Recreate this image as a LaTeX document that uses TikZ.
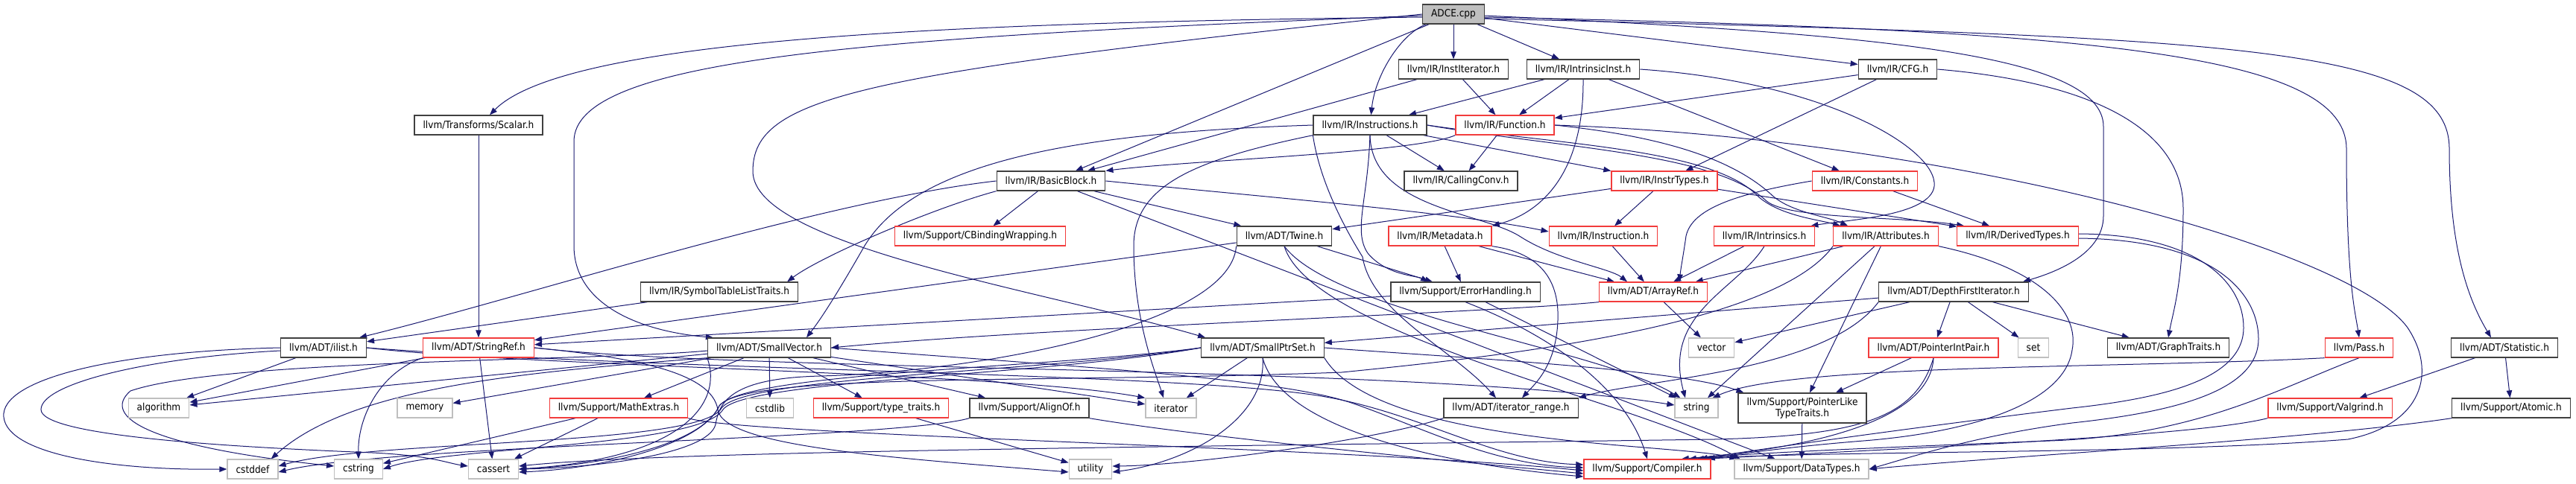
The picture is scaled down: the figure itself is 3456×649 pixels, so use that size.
\documentclass[tikz,border=0pt]{standalone}
\usepackage{fontspec}
\newfontfamily\graphfont[FakeStretch=0.9]{DejaVu Sans}
\usepackage{tikz}
\usetikzlibrary{arrows.meta, backgrounds}

\definecolor{edgeblue}{HTML}{191970}
\definecolor{truncred}{HTML}{F23C3C}
\definecolor{sysgray}{HTML}{BFBFBF}
\definecolor{hdrblack}{HTML}{404040}

\begin{document}
\begin{tikzpicture}[
  x=1pt, y=-1pt,
  every node/.style={font=\graphfont\fontsize{13.5}{15}\selectfont},
  hdr/.style={draw=hdrblack, line width=1.3pt, fill=white, inner xsep=11.5pt, inner ysep=3pt, minimum height=26pt},
  trunc/.style={hdr, draw=truncred},
  sys/.style={hdr, draw=sysgray},
  root/.style={hdr, fill=sysgray},
  incl/.style={-{Triangle[length=10pt,width=7.5pt]}, line width=1pt, edgeblue}
]
  \useasboundingbox (0,0) rectangle (3456,649);

  % Row 0
  \node[root] (adce) at (1950,19) {ADCE.cpp};

  % Row 1
  \node[hdr] (institer) at (1950,93) {llvm/IR/InstIterator.h};
  \node[hdr] (intrinst) at (2124,93) {llvm/IR/IntrinsicInst.h};
  \node[hdr] (cfg) at (2546,93) {llvm/IR/CFG.h};

  % Row 2
  \node[hdr] (scalar) at (642,168) {llvm/Transforms/Scalar.h};
  \node[hdr] (instrs) at (1838,168) {llvm/IR/Instructions.h};
  \node[trunc] (func) at (2019,168) {llvm/IR/Function.h};

  % Row 3
  \node[hdr] (bblock) at (1410,243) {llvm/IR/BasicBlock.h};
  \node[hdr] (callconv) at (1960,243) {llvm/IR/CallingConv.h};
  \node[trunc] (instrtypes) at (2233,243) {llvm/IR/InstrTypes.h};
  \node[trunc] (constants) at (2502,243) {llvm/IR/Constants.h};

  % Row 4
  \node[trunc] (cbind) at (1315,317) {llvm/Support/CBindingWrapping.h};
  \node[hdr] (twine) at (1723,317) {llvm/ADT/Twine.h};
  \node[trunc] (metadata) at (1932,317) {llvm/IR/Metadata.h};
  \node[trunc] (instr) at (2151,317) {llvm/IR/Instruction.h};
  \node[trunc] (intrinsics) at (2367,317) {llvm/IR/Intrinsics.h};
  \node[trunc] (attrs) at (2530,317) {llvm/IR/Attributes.h};
  \node[trunc] (dertypes) at (2707,317) {llvm/IR/DerivedTypes.h};

  % Row 5
  \node[hdr] (symtab) at (965,392) {llvm/IR/SymbolTableListTraits.h};
  \node[hdr] (errhand) at (1966,392) {llvm/Support/ErrorHandling.h};
  \node[trunc] (arrayref) at (2218,392) {llvm/ADT/ArrayRef.h};
  \node[hdr] (dfi) at (2621,392) {llvm/ADT/DepthFirstIterator.h};

  % Row 6
  \node[hdr] (ilist) at (434,467) {llvm/ADT/ilist.h};
  \node[trunc] (stringref) at (642,467) {llvm/ADT/StringRef.h};
  \node[hdr] (smallvec) at (1032,467) {llvm/ADT/SmallVector.h};
  \node[hdr] (smallptr) at (1694,467) {llvm/ADT/SmallPtrSet.h};
  \node[sys] (vector) at (2296,467) {vector};
  \node[trunc] (ptrintpair) at (2594,467) {llvm/ADT/PointerIntPair.h};
  \node[sys] (set) at (2728,467) {set};
  \node[hdr] (graphtraits) at (2909,467) {llvm/ADT/GraphTraits.h};
  \node[trunc] (pass) at (3165,467) {llvm/Pass.h};
  \node[hdr] (statistic) at (3360,467) {llvm/ADT/Statistic.h};

  % Row 7
  \node[sys] (algorithm) at (213,548) {algorithm};
  \node[sys] (memory) at (570,548) {memory};
  \node[trunc] (mathextras) at (830,548) {llvm/Support/MathExtras.h};
  \node[sys] (cstdlib) at (1033,548) {cstdlib};
  \node[trunc] (typetraits) at (1182,548) {llvm/Support/type\_traits.h};
  \node[hdr] (alignof) at (1381,548) {llvm/Support/AlignOf.h};
  \node[sys] (iterator) at (1571,548) {iterator};
  \node[hdr] (iterrange) at (2027,548) {llvm/ADT/iterator\_range.h};
  \node[sys] (string) at (2276,548) {string};
  \node[hdr, align=center, minimum height=40pt] (ptrlike) at (2418,548) {llvm/Support/PointerLike\\TypeTraits.h};
  \node[trunc] (valgrind) at (3126,548) {llvm/Support/Valgrind.h};
  \node[hdr] (atomic) at (3369,548) {llvm/Support/Atomic.h};

  % Row 8
  \node[sys] (cstddef) at (339,630) {cstddef};
  \node[sys] (cstring) at (481,630) {cstring};
  \node[sys] (cassert) at (662,630) {cassert};
  \node[sys] (utility) at (1463,630) {utility};
  \node[trunc] (compiler) at (2210,630) {llvm/Support/Compiler.h};
  \node[sys] (datatypes) at (2417,630) {llvm/Support/DataTypes.h};

  \begin{scope}[on background layer]
    % Straight includes
    \foreach \s/\t in {adce/institer, adce/intrinst, adce/cfg, adce/bblock,
        institer/func, institer/bblock, intrinst/instrs, intrinst/func, intrinst/constants,
        cfg/func, cfg/instrtypes, scalar/stringref, instrs/callconv, instrs/instrtypes,
        func/callconv, bblock/cbind, bblock/twine, bblock/datatypes,
        instrtypes/instr, instrtypes/twine, instrtypes/dertypes, constants/dertypes,
        twine/stringref, twine/errhand, metadata/errhand, metadata/arrayref,
        instr/arrayref, intrinsics/arrayref, attrs/arrayref, attrs/ptrlike, attrs/string,
        errhand/stringref, errhand/string, arrayref/vector,
        dfi/ptrintpair, dfi/set, dfi/graphtraits, dfi/vector, dfi/smallptr,
        ptrintpair/ptrlike, statistic/valgrind, statistic/atomic, symtab/ilist,
        ilist/algorithm, stringref/algorithm, stringref/cassert,
        smallvec/memory, smallvec/mathextras, smallvec/cstdlib, smallvec/typetraits,
        smallvec/alignof, smallvec/iterator, smallvec/algorithm,
        mathextras/cassert, mathextras/cstring, typetraits/utility,
        smallptr/iterator, ptrlike/datatypes}
      \draw[incl] (\s) -- (\t);

    % ADCE.cpp, long ones
    \draw[incl] ([yshift=-4pt]adce.west) .. controls (1300,30) and (760,50) .. ([xshift=15pt]scalar.north);
    \draw[incl] ([yshift=-2pt]adce.west) .. controls (1150,50) and (770,80) .. (770,190) -- (770,330) .. controls (770,410) and (860,445) .. ([xshift=8pt]smallvec.north west);
    \draw[incl] (adce.west) .. controls (1150,100) and (1010,130) .. (1010,230) .. controls (1010,330) and (1400,390) .. ([xshift=6pt]smallptr.north west);
    \draw[incl] (adce) .. controls (1880,45) and (1845,100) .. (instrs);
    \draw[incl] ([yshift=-2pt]adce.east) .. controls (2500,45) and (2822,70) .. (2822,170) -- (2822,290) .. controls (2822,340) and (2760,365) .. ([xshift=-8pt]dfi.north east);
    \draw[incl] ([yshift=-4pt]adce.east) .. controls (2800,40) and (3148,70) .. (3148,200) .. controls (3148,380) and (3160,420) .. (pass.north);
    \draw[incl] ([yshift=-6pt]adce.east) .. controls (3000,50) and (3286,60) .. (3286,200) .. controls (3286,330) and (3310,400) .. ([xshift=-18pt]statistic.north);

    % IntrinsicInst.h, CFG.h
    \draw[incl] (intrinst.south) .. controls (2125,230) and (2070,285) .. (metadata.north east);
    \draw[incl] (intrinst.east) .. controls (2450,110) and (2600,200) .. (2595,250) .. controls (2590,290) and (2480,295) .. ([xshift=-6pt]intrinsics.north east);
    \draw[incl] (cfg.east) .. controls (2800,110) and (2929,170) .. (2929,280) .. controls (2929,380) and (2915,420) .. (graphtraits.north);

    % Instructions.h
    \draw[incl] (instrs.east) .. controls (2100,200) and (2300,205) .. (2370,270) .. controls (2400,295) and (2550,290) .. ([xshift=10pt]dertypes.north west);
    \draw[incl] (instrs.east) .. controls (2100,195) and (2300,200) .. (2360,265) .. controls (2390,290) and (2440,295) .. ([xshift=10pt]attrs.north west);
    \draw[incl] (instrs.south) .. controls (1840,280) and (1990,285) .. (2040,318) .. controls (2090,350) and (2160,360) .. ([xshift=-35pt]arrayref.north);
    \draw[incl] (instrs.south west) .. controls (1770,240) and (1800,300) .. (1828,345) .. controls (1840,420) and (1950,470) .. ([xshift=-20pt]iterrange.north);
    \draw[incl] (instrs.south) .. controls (1835,270) and (1815,310) .. (1835,340) .. controls (1860,370) and (1900,370) .. ([xshift=-50pt]errhand.north);
    \draw[incl] (instrs.west) .. controls (1450,178) and (1230,215) .. (1160,330) .. controls (1120,400) and (1100,430) .. ([xshift=50pt]smallvec.north);
    \draw[incl] (instrs.south west) .. controls (1600,215) and (1521,250) .. (1521,330) .. controls (1521,430) and (1550,500) .. ([xshift=-10pt]iterator.north);

    % Function.h
    \draw[incl] (func.south west) .. controls (1900,205) and (1600,215) .. (bblock.north east);
    \draw[incl] (func.east) .. controls (2250,185) and (2330,220) .. (2375,260) .. controls (2400,285) and (2450,290) .. ([xshift=20pt]attrs.north west);
    \draw[incl] (func.east) .. controls (2600,185) and (3150,330) .. (3230,440) .. controls (3270,500) and (3250,570) .. (3150,590) .. controls (2900,610) and (2450,605) .. ([xshift=-20pt]compiler.north east);

    % BasicBlock.h
    \draw[incl] (bblock.south west) .. controls (1250,280) and (1100,345) .. ([xshift=-15pt]symtab.north east);
    \draw[incl] (bblock.west) .. controls (1100,270) and (700,400) .. ([xshift=-10pt]ilist.north east);
    \draw[incl] (bblock.east) .. controls (1700,265) and (1950,285) .. ([yshift=6pt]instr.west);

    % Constants.h, Twine.h, Metadata.h, Intrinsics.h
    \draw[incl] (constants.west) .. controls (2330,260) and (2270,280) .. (2262,317) .. controls (2258,345) and (2255,360) .. ([xshift=35pt]arrayref.north);
    \draw[incl] (twine.south) .. controls (1760,450) and (2200,540) .. ([xshift=8pt]datatypes.north west);
    \draw[incl] (twine.south) .. controls (1790,420) and (2150,470) .. ([xshift=8pt]string.north west);
    \draw[incl] (twine.south west) .. controls (1650,440) and (1300,500) .. (1100,505) .. controls (980,508) and (965,540) .. (960,570) .. controls (950,610) and (800,628) .. (cassert.east);
    \draw[incl] (metadata.south east) .. controls (2070,340) and (2092,380) .. (2090,430) .. controls (2088,490) and (2060,515) .. ([xshift=15pt]iterrange.north);
    \draw[incl] (intrinsics.south) .. controls (2330,390) and (2230,420) .. ([xshift=-15pt]string.north);

    % Attributes.h, DerivedTypes.h
    \draw[incl] (attrs.south west) .. controls (2380,440) and (2000,480) .. (1800,500) .. controls (1400,515) and (1000,500) .. (965,545) .. controls (940,600) and (800,630) .. ([yshift=-4pt]cassert.east);
    \draw[incl] (attrs.south east) .. controls (2740,360) and (2790,420) .. (2780,470) .. controls (2770,540) and (2650,580) .. (2500,592) .. controls (2400,600) and (2330,610) .. ([xshift=-5pt]compiler.north east);
    \draw[incl] ([yshift=3pt]dertypes.east) .. controls (2950,315) and (3010,380) .. (3010,440) .. controls (3010,510) and (2900,535) .. (2780,548) .. controls (2600,570) and (2380,600) .. ([xshift=-15pt]compiler.north east);
    \draw[incl] ([yshift=-3pt]dertypes.east) .. controls (2980,322) and (3030,400) .. (3030,455) .. controls (3030,530) and (2900,555) .. (2780,568) .. controls (2650,585) and (2560,615) .. (datatypes.east);

    % ErrorHandling.h, ArrayRef.h, DepthFirstIterator.h
    \draw[incl] (errhand.south) .. controls (2080,450) and (2180,520) .. (compiler.north);
    \draw[incl] (arrayref.south west) .. controls (2000,420) and (1400,440) .. (smallvec.east);
    \draw[incl] (dfi.south west) .. controls (2450,500) and (2200,510) .. (iterrange.north east);

    % PointerIntPair.h, Pass.h, Valgrind.h, Atomic.h
    \draw[incl] (ptrintpair.south) .. controls (2590,560) and (2450,600) .. ([xshift=-40pt]compiler.north east);
    \draw[incl] (ptrintpair.south) .. controls (2570,560) and (2500,585) .. (2300,590) .. controls (1600,600) and (900,605) .. ([yshift=4pt]cassert.east);
    \draw[incl] (pass.south west) .. controls (2850,495) and (2400,488) .. ([xshift=-8pt]string.north east);
    \draw[incl] (pass.south) .. controls (3060,520) and (2950,585) .. (2750,592) .. controls (2550,600) and (2350,608) .. ([xshift=-30pt]compiler.north east);
    \draw[incl] (valgrind.south west) .. controls (2950,585) and (2600,600) .. ([xshift=-10pt]compiler.north east);
    \draw[incl] (atomic.south west) .. controls (3100,590) and (2700,612) .. (datatypes.east);

    % ilist.h
    \draw[incl] (ilist.west) .. controls (150,472) and (0,510) .. (5,560) .. controls (10,610) and (150,632) .. (cstddef.west);
    \draw[incl] ([yshift=-4pt]ilist.west) .. controls (200,480) and (55,515) .. (55,550) .. controls (55,585) and (300,600) .. (500,608) .. controls (580,612) and (600,622) .. ([yshift=4pt]cassert.west);
    \draw[incl] (ilist.east) .. controls (700,492) and (1350,500) .. (iterator.north west);
    \draw[incl] (ilist.east) .. controls (900,498) and (1550,500) .. (1760,530) .. controls (1900,550) and (2000,620) .. ([yshift=6pt]compiler.west);

    % StringRef.h
    \draw[incl] (stringref.east) .. controls (850,480) and (955,500) .. (963,550) .. controls (970,600) and (1200,615) .. ([yshift=-4pt]utility.west);
    \draw[incl] (stringref.east) .. controls (1000,500) and (1900,490) .. ([yshift=4pt]string.west);
    \draw[incl] (stringref.south west) .. controls (510,500) and (480,560) .. (cstring.north);

    % SmallVector.h
    \draw[incl] (smallvec.south west) .. controls (970,540) and (920,615) .. (cassert.east);
    \draw[incl] (smallvec.south west) .. controls (700,500) and (470,520) .. ([xshift=-10pt]cstddef.north east);
    \draw[incl] ([yshift=-4pt]smallvec.west) .. controls (800,485) and (300,482) .. (175,525) .. controls (135,560) and (200,600) .. ([yshift=4pt]cstring.west);
    \draw[incl] (smallvec.east) .. controls (1400,490) and (1700,505) .. (1810,540) .. controls (1900,570) and (2000,625) .. ([yshift=2pt]compiler.west);

    % MathExtras.h, AlignOf.h
    \draw[incl] (mathextras.south east) .. controls (1000,585) and (1800,600) .. ([yshift=-2pt]compiler.west);
    \draw[incl] (alignof.south west) .. controls (1200,590) and (520,598) .. ([yshift=-4pt]cstddef.east);
    \draw[incl] (alignof.south east) .. controls (1600,585) and (1900,615) .. ([yshift=-6pt]compiler.west);

    % SmallPtrSet.h
    \draw[incl] (smallptr.west) .. controls (1400,495) and (1000,500) .. (965,545) .. controls (940,600) and (800,625) .. (cassert.east);
    \draw[incl] (smallptr.west) .. controls (1400,500) and (1000,505) .. (968,548) .. controls (940,600) and (500,590) .. ([yshift=4pt]cstddef.east);
    \draw[incl] (smallptr.west) .. controls (1400,505) and (1000,510) .. (970,550) .. controls (940,600) and (600,600) .. (cstring.east);
    \draw[incl] (smallptr.south) .. controls (1700,560) and (1600,620) .. ([yshift=-4pt]utility.east);
    \draw[incl] (smallptr.south) .. controls (1720,580) and (1950,625) .. ([yshift=-10pt]compiler.west);
    \draw[incl] (smallptr.south east) .. controls (1850,600) and (2250,595) .. ([xshift=4pt]datatypes.north west);
    \draw[incl] (smallptr.east) .. controls (1950,480) and (2250,495) .. ([xshift=8pt]ptrlike.north west);

    % iterator_range.h
    \draw[incl] (iterrange.south west) .. controls (1850,590) and (1600,625) .. ([yshift=4pt]utility.east);
  \end{scope}
\end{tikzpicture}
\end{document}
